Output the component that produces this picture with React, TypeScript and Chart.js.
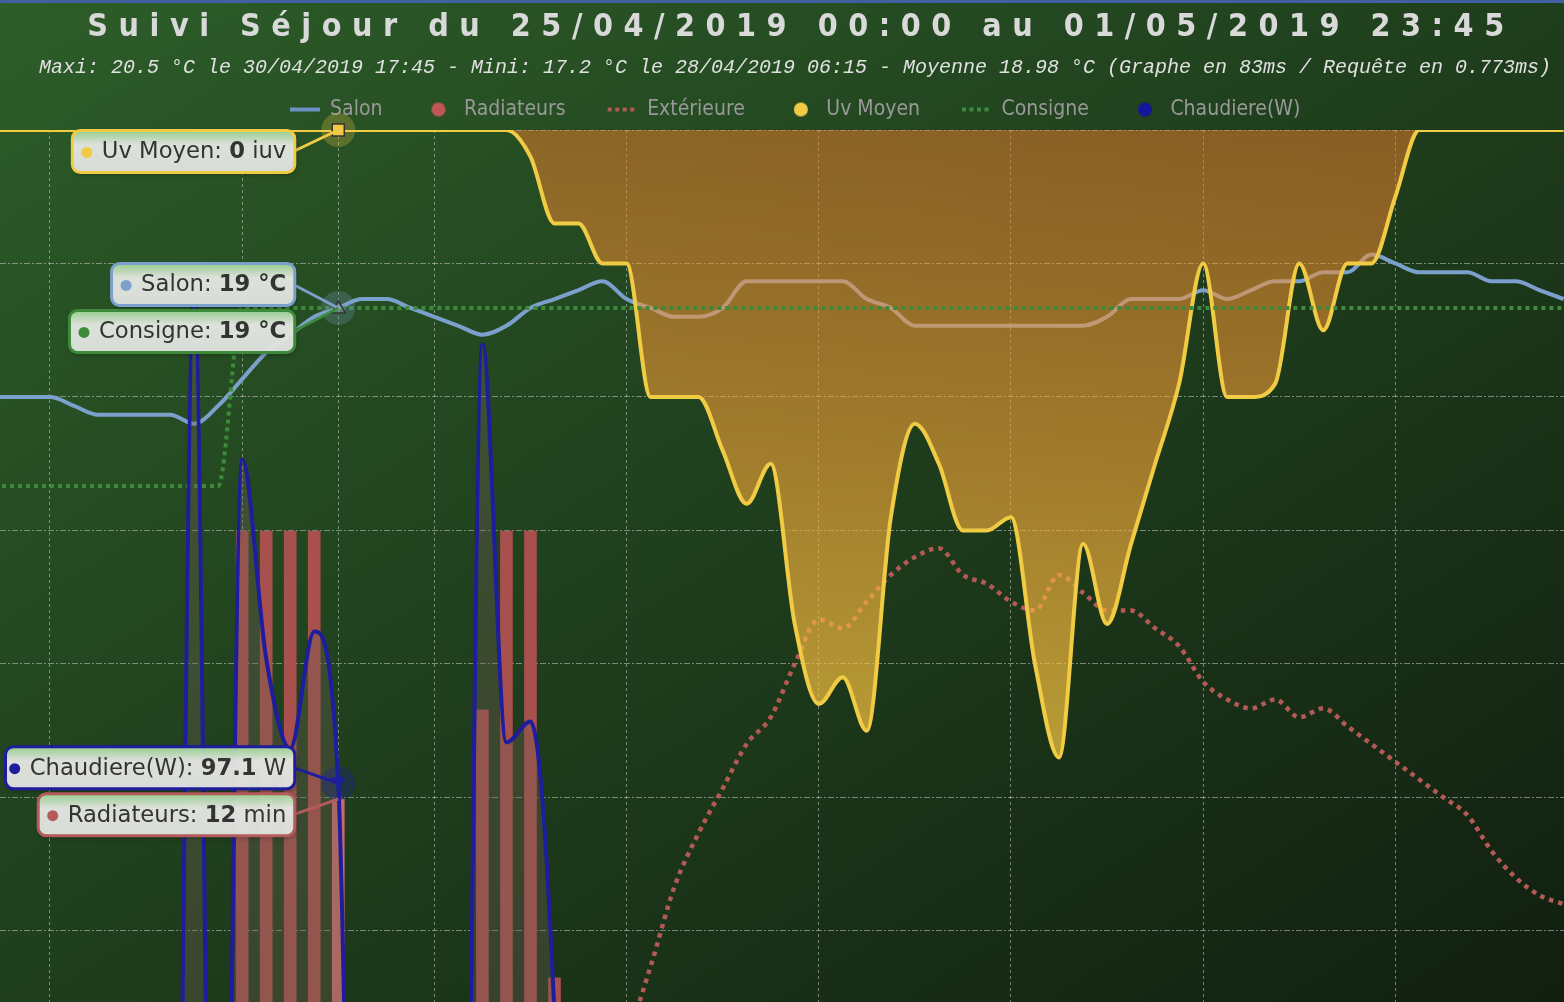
import React, { useEffect, useRef } from 'react';
import { Chart, registerables } from 'chart.js';

Chart.register(...registerables);

// ---------------- texts ----------------
const TITLE = 'Suivi Séjour du 25/04/2019 00:00 au 01/05/2019 23:45';
const SUBTITLE =
  'Maxi: 20.5 °C le 30/04/2019 17:45 - Mini: 17.2 °C le 28/04/2019 06:15 - Moyenne 18.98 °C (Graphe en 83ms / Requête en 0.773ms)';

// ---------------- data : one sample every 15 minutes ----------------
const times = [
  '03:15', '03:30', '03:45', '04:00', '04:15', '04:30', '04:45', '05:00', '05:15', '05:30', '05:45',
  '06:00', '06:15', '06:30', '06:45', '07:00', '07:15', '07:30', '07:45', '08:00', '08:15', '08:30', '08:45',
  '09:00', '09:15', '09:30', '09:45', '10:00', '10:15', '10:30', '10:45', '11:00', '11:15', '11:30', '11:45',
  '12:00', '12:15', '12:30', '12:45', '13:00', '13:15', '13:30', '13:45', '14:00', '14:15', '14:30', '14:45',
  '15:00', '15:15', '15:30', '15:45', '16:00', '16:15', '16:30', '16:45', '17:00', '17:15', '17:30', '17:45',
  '18:00', '18:15', '18:30', '18:45', '19:00', '19:15', '19:30', '19:45',
];

// Salon (°C)
const salon = [
  18.0, 18.0, 18.0, 18.0, 17.9, 17.8, 17.8, 17.8, 17.8, 17.7, 17.9,
  18.2, 18.5, 18.7, 18.9, 19.0, 19.1, 19.1, 19.0, 18.9, 18.8, 18.7, 18.8,
  19.0, 19.1, 19.2, 19.3, 19.1, 19.0, 18.9, 18.9, 19.0, 19.3, 19.3, 19.3,
  19.3, 19.3, 19.1, 19.0, 18.8, 18.8, 18.8, 18.8, 18.8, 18.8, 18.8, 18.8,
  18.9, 19.1, 19.1, 19.1, 19.2, 19.1, 19.2, 19.3, 19.3, 19.4, 19.4, 19.6,
  19.5, 19.4, 19.4, 19.4, 19.3, 19.3, 19.2, 19.1,
];

// Radiateurs (min de chauffe par quart d'heure)
const radiateurs = [
  null, null, null, null, null, null, null, null, null, null, null,
  15, 15, 15, 15, 12, null, null, null, null, null, 13, 15,
  15, 10, null, null, null, null, null, null, null, null, null, null,
  null, null, null, null, null, null, null, null, null, null, null, null,
  null, null, null, null, null, null, null, null, null, null, null, null,
  null, null, null, null, null, null, null, null,
];

// Extérieure (°C)
const exterieure = [
  9.3, 9.2, 9.1, 9.0, 8.9, 8.8, 8.8, 8.7, 8.6, 8.6, 8.5,
  8.5, 8.4, 8.4, 8.4, 8.5, 8.6, 8.7, 8.8, 8.9, 9.0, 9.2, 9.4,
  9.6, 9.9, 10.2, 10.4, 10.8, 11.6, 12.5, 13.1, 13.6, 14.1, 14.4, 15.0,
  15.5, 15.4, 15.7, 16.0, 16.2, 16.3, 16.0, 15.9, 15.7, 15.6, 16.0, 15.8,
  15.6, 15.6, 15.4, 15.2, 14.8, 14.6, 14.5, 14.6, 14.4, 14.5, 14.3, 14.1,
  13.9, 13.7, 13.5, 13.3, 12.9, 12.6, 12.4, 12.3,
];

// Uv Moyen (iuv)
const uvMoyen = [
  0, 0, 0, 0, 0, 0, 0, 0, 0, 0, 0,
  0, 0, 0, 0, 0, 0, 0, 0, 0, 0, 0, 0,
  0.2, 0.7, 0.7, 1.0, 1.0, 2.0, 2.0, 2.0, 2.4, 2.8, 2.5, 3.7,
  4.3, 4.1, 4.5, 2.9, 2.2, 2.5, 3.0, 3.0, 2.9, 4.0, 4.7, 3.1,
  3.7, 3.1, 2.5, 1.9, 1.0, 2.0, 2.0, 1.9, 1.0, 1.5, 1.0, 1.0,
  0.5, 0, 0, 0, 0, 0, 0, 0,
];

// Consigne (°C)
const consigne = [
  17, 17, 17, 17, 17, 17, 17, 17, 17, 17, 17,
  19, 19, 19, 19, 19, 19, 19, 19, 19, 19, 19, 19,
  19, 19, 19, 19, 19, 19, 19, 19, 19, 19, 19, 19,
  19, 19, 19, 19, 19, 19, 19, 19, 19, 19, 19, 19,
  19, 19, 19, 19, 19, 19, 19, 19, 19, 19, 19, 19,
  19, 19, 19, 19, 19, 19, 19, 19,
];

// Chaudiere (W)
const chaudiere = [
  0, 0, 0, 0, 0, 0, 0, 0, 0, 144, 0,
  128, 109, 100.4, 111.6, 97.1, 0, 0, 0, 0, 0, 139, 101,
  103, 75, 0, 0, 0, 0, 0, 0, 0, 0, 0, 0,
  0, 0, 0, 0, 0, 0, 0, 0, 0, 0, 0, 0,
  0, 0, 0, 0, 0, 0, 0, 0, 0, 0, 0, 0,
  0, 0, 0, 0, 0, 0, 0, 0,
];

const seriesNames = ['Salon', 'Radiateurs', 'Extérieure', 'Uv Moyen', 'Consigne', 'Chaudiere(W)'];
const hoverTime = '07:00';
const gridHours = [4, 6, 8, 10, 12, 14, 16, 18];
const uvGridTicks = [0, 1, 2, 3, 4, 5, 6];

// ---------------- view / style ----------------
const W = 1564;
const H = 1002;
const X_MIN = 3.48;
const X_MAX = 19.755;
const UV_MAX = 6.532;
const TEMP_MIN = 11.2;
const TEMP_MAX = 21.0;
const RAD_MIN = 9.73;
const RAD_MAX = 19.49;
const W_MIN = 76.2;
const W_MAX = 159.5;

const SALON_COLOR = 'rgb(124,160,204)';
const RAD_COLOR = '#a8504e';
const RAD_HOVER = '#c96d6b';
const EXT_COLOR = '#b35a55';
const UV_COLOR = '#f2cb45';
const CONS_COLOR = '#3d8b3a';
const CHAUD_COLOR = '#1d1d9e';
const GRID_COLOR = 'rgba(200,200,200,0.55)';
const LEGEND_SHIFT = 13;

const hourOf = (t: string) => {
  const [h, m] = t.split(':').map(Number);
  return h + m / 60;
};
const pts = (vals: (number | null)[]) => times.map((t, i) => ({ x: hourOf(t), y: vals[i] }));
const HOVER_INDEX = times.indexOf(hoverTime);

function makeSymbol(kind: string, color: string) {
  const c = document.createElement('canvas');
  c.width = 30;
  c.height = 16;
  const g = c.getContext('2d') as CanvasRenderingContext2D;
  g.fillStyle = color;
  g.strokeStyle = color;
  if (kind === 'line') {
    g.lineWidth = 4;
    g.beginPath();
    g.moveTo(0, 8);
    g.lineTo(30, 8);
    g.stroke();
  } else if (kind === 'dots') {
    for (let x = 1; x < 28; x += 7.5) g.fillRect(x, 6, 4, 4);
  } else {
    g.beginPath();
    g.arc(15, 8, 7, 0, Math.PI * 2);
    g.fill();
  }
  return c;
}

function roundRectPath(ctx: CanvasRenderingContext2D, x: number, y: number, w: number, h: number, r: number) {
  ctx.beginPath();
  ctx.moveTo(x + r, y);
  ctx.arcTo(x + w, y, x + w, y + h, r);
  ctx.arcTo(x + w, y + h, x, y + h, r);
  ctx.arcTo(x, y + h, x, y, r);
  ctx.arcTo(x, y, x + w, y, r);
  ctx.closePath();
}

const legendShiftPlugin = {
  id: 'legendShift',
  afterLayout(chart: any) {
    if (chart.legend) {
      chart.legend.left += LEGEND_SHIFT;
      chart.legend.right += LEGEND_SHIFT;
    }
  },
};

const TIP_FONT = '22.7px "DejaVu Sans", Verdana, sans-serif';
const TIP_BOLD = 'bold 22.7px "DejaVu Sans", Verdana, sans-serif';

const splitTooltipPlugin = {
  id: 'splitTooltip',
  beforeDatasetsDraw(chart: any) {
    const { ctx, chartArea, scales } = chart;
    const x = Math.round(scales.x.getPixelForValue(hourOf(hoverTime))) + 0.5;
    ctx.save();
    ctx.strokeStyle = GRID_COLOR;
    ctx.lineWidth = 1;
    ctx.setLineDash([3, 3]);
    ctx.beginPath();
    ctx.moveTo(x, chartArea.top);
    ctx.lineTo(x, chartArea.bottom);
    ctx.stroke();
    ctx.restore();
  },
  afterDatasetsDraw(chart: any) {
    const { ctx, scales } = chart;
    const i = HOVER_INDEX;
    const x = scales.x.getPixelForValue(hourOf(times[i]));
    const yUv = scales.yUv.getPixelForValue(uvMoyen[i]);
    const ySalon = scales.yTemp.getPixelForValue(salon[i]);
    const yW = scales.yW.getPixelForValue(chaudiere[i]);
    const halo = (y: number, color: string) => {
      ctx.beginPath();
      ctx.arc(x, y, 17, 0, Math.PI * 2);
      ctx.fillStyle = color;
      ctx.fill();
    };
    ctx.save();
    halo(yUv, 'rgba(242,203,69,0.25)');
    halo(ySalon, 'rgba(124,160,204,0.25)');
    halo(yW, 'rgba(29,29,158,0.3)');
    // Uv marker: square
    ctx.fillStyle = UV_COLOR;
    ctx.strokeStyle = '#333';
    ctx.lineWidth = 1.5;
    ctx.fillRect(x - 6, yUv - 6, 12, 12);
    ctx.strokeRect(x - 6, yUv - 6, 12, 12);
    // Salon marker: triangle
    ctx.beginPath();
    ctx.moveTo(x, ySalon - 7);
    ctx.lineTo(x + 7, ySalon + 5);
    ctx.lineTo(x - 7, ySalon + 5);
    ctx.closePath();
    ctx.fillStyle = 'rgba(140,160,150,0.45)';
    ctx.fill();
    ctx.stroke();
    // Chaudiere marker: triangle down
    ctx.beginPath();
    ctx.moveTo(x - 7, yW - 6);
    ctx.lineTo(x + 7, yW - 6);
    ctx.lineTo(x, yW + 6);
    ctx.closePath();
    ctx.fillStyle = CHAUD_COLOR;
    ctx.fill();
    ctx.restore();
  },
  afterDraw(chart: any) {
    const { ctx, chartArea, scales } = chart;
    const i = HOVER_INDEX;
    const hx = scales.x.getPixelForValue(hourOf(times[i]));
    const entries: any[] = [
      { label: 'Uv Moyen: ', value: String(uvMoyen[i]), suffix: ' iuv', boldSuffix: false, color: UV_COLOR, y: scales.yUv.getPixelForValue(uvMoyen[i]) },
      { label: 'Salon: ', value: String(salon[i]), suffix: ' °C', boldSuffix: true, color: SALON_COLOR, y: scales.yTemp.getPixelForValue(salon[i]) },
      { label: 'Consigne: ', value: String(consigne[i]), suffix: ' °C', boldSuffix: true, color: CONS_COLOR, y: scales.yTemp.getPixelForValue(consigne[i]) },
      { label: 'Chaudiere(W): ', value: String(chaudiere[i]), suffix: ' W', boldSuffix: false, color: CHAUD_COLOR, y: scales.yW.getPixelForValue(chaudiere[i]) },
      { label: 'Radiateurs: ', value: String(radiateurs[i]), suffix: ' min', boldSuffix: false, color: '#b35a5a', y: scales.yRad.getPixelForValue(radiateurs[i] as number) },
    ];
    const BOX_H = 45;
    const GAP = 2;
    const sorted = entries.map((e, k) => ({ ...e, k })).sort((a, b) => a.y - b.y || a.k - b.k);
    let groups: any[] = sorted.map((e) => ({ items: [e], size: BOX_H, pos: e.y - BOX_H / 2 }));
    let changed = true;
    let guard = 0;
    while (changed && guard++ < 50) {
      changed = false;
      groups.forEach((g) => {
        g.pos = Math.min(Math.max(g.pos, chartArea.top - 1), chartArea.bottom - g.size);
      });
      for (let k = 0; k < groups.length - 1; k++) {
        const a = groups[k];
        const b = groups[k + 1];
        if (a.pos + a.size + GAP > b.pos) {
          const items = a.items.concat(b.items);
          const size = items.length * BOX_H + (items.length - 1) * GAP;
          const target = items.reduce((s: number, it: any) => s + it.y, 0) / items.length;
          groups.splice(k, 2, { items, size, pos: target - size / 2 });
          changed = true;
          break;
        }
      }
    }
    groups.forEach((g) => {
      let y = g.pos;
      g.items.forEach((it: any) => {
        it.top = y;
        y += BOX_H + GAP;
      });
    });

    const right = hx - 42;
    ctx.save();
    for (const e of sorted) {
      const cy = e.top + BOX_H / 2;
      ctx.font = TIP_FONT;
      const w1 = ctx.measureText(e.label).width;
      ctx.font = TIP_BOLD;
      const boldText = e.value + (e.boldSuffix ? e.suffix : '');
      const w2 = ctx.measureText(boldText).width;
      ctx.font = TIP_FONT;
      const w3 = e.boldSuffix ? 0 : ctx.measureText(e.suffix).width;
      const textEnd = right - 10;
      const textStart = textEnd - (w1 + w2 + w3);
      const dotX = textStart - 15;
      const left = Math.max(dotX - 16, 4);

      // connector
      ctx.strokeStyle = e.color;
      ctx.lineWidth = 3;
      ctx.beginPath();
      ctx.moveTo(right - 3, cy);
      ctx.lineTo(hx, e.y);
      ctx.stroke();

      // box
      ctx.save();
      ctx.shadowColor = 'rgba(0,0,0,0.35)';
      ctx.shadowBlur = 5;
      ctx.shadowOffsetX = 1;
      ctx.shadowOffsetY = 2;
      const grad = ctx.createLinearGradient(0, e.top, 0, e.top + BOX_H);
      grad.addColorStop(0, 'rgba(150,212,140,0.94)');
      grad.addColorStop(0.35, 'rgba(233,236,231,0.94)');
      grad.addColorStop(1, 'rgba(228,230,226,0.94)');
      roundRectPath(ctx, left + 1.5, e.top + 1.5, right - left - 3, BOX_H - 3, 8);
      ctx.fillStyle = grad;
      ctx.fill();
      ctx.restore();
      roundRectPath(ctx, left + 1.5, e.top + 1.5, right - left - 3, BOX_H - 3, 8);
      ctx.strokeStyle = e.color;
      ctx.lineWidth = 3;
      ctx.stroke();

      // dot
      ctx.beginPath();
      ctx.arc(dotX, cy + 1, 5.5, 0, Math.PI * 2);
      ctx.fillStyle = e.color;
      ctx.fill();

      // text
      ctx.fillStyle = '#333333';
      ctx.textBaseline = 'middle';
      ctx.textAlign = 'left';
      ctx.font = TIP_FONT;
      ctx.fillText(e.label, textStart, cy + 1);
      ctx.font = TIP_BOLD;
      ctx.fillText(boldText, textStart + w1, cy + 1);
      if (!e.boldSuffix) {
        ctx.font = TIP_FONT;
        ctx.fillText(e.suffix, textStart + w1 + w2, cy + 1);
      }
    }
    ctx.restore();
  },
};

export default function App() {
  const canvasRef = useRef<HTMLCanvasElement | null>(null);

  useEffect(() => {
    document.body.style.margin = '0';
    const canvas = canvasRef.current;
    if (!canvas) return;

    const symbols = [
      makeSymbol('line', 'rgb(110,145,195)'),
      makeSymbol('circle', '#bf5757'),
      makeSymbol('dots', EXT_COLOR),
      makeSymbol('circle', UV_COLOR),
      makeSymbol('dots', CONS_COLOR),
      makeSymbol('circle', '#16169a'),
    ];

    const uvFill = (c: any) => {
      const chart = c.chart;
      const a = chart.chartArea;
      if (!a) return 'rgba(230,160,50,0.6)';
      const g = chart.ctx.createLinearGradient(0, a.top, 0, a.top + 640);
      g.addColorStop(0, 'rgba(240,125,43,0.5)');
      g.addColorStop(1, 'rgba(248,202,67,0.72)');
      return g;
    };

    const lineCommon = {
      type: 'line',
      pointRadius: 0,
      pointHoverRadius: 0,
      cubicInterpolationMode: 'monotone',
      borderCapStyle: 'butt',
    };

    const chart = new Chart(canvas, {
      type: 'line',
      data: {
        datasets: [
          { ...lineCommon, label: seriesNames[0], data: pts(salon), yAxisID: 'yTemp', borderColor: SALON_COLOR, borderWidth: 4, fill: false, order: 6 },
          {
            type: 'bar',
            label: seriesNames[1],
            data: pts(radiateurs),
            yAxisID: 'yRad',
            backgroundColor: radiateurs.map((_, k) => (k === HOVER_INDEX ? RAD_HOVER : RAD_COLOR)),
            borderWidth: 0,
            barThickness: 12,
            order: 5,
          },
          { ...lineCommon, label: seriesNames[2], data: pts(exterieure), yAxisID: 'yTemp', borderColor: EXT_COLOR, borderWidth: 4.5, borderDash: [4.5, 5], fill: false, order: 4 },
          { ...lineCommon, label: seriesNames[3], data: pts(uvMoyen), yAxisID: 'yUv', borderColor: UV_COLOR, borderWidth: 4, fill: 'origin', backgroundColor: uvFill, order: 3 },
          { ...lineCommon, label: seriesNames[4], data: pts(consigne), yAxisID: 'yTemp', borderColor: CONS_COLOR, borderWidth: 4, borderDash: [4, 4], fill: false, order: 2 },
          { ...lineCommon, label: seriesNames[5], data: pts(chaudiere), yAxisID: 'yW', borderColor: CHAUD_COLOR, borderWidth: 4, fill: 'origin', backgroundColor: 'rgba(112,94,84,0.35)', order: 1 },
        ] as any,
      },
      options: {
        animation: false,
        responsive: false,
        maintainAspectRatio: false,
        devicePixelRatio: 1,
        events: [],
        layout: { padding: { top: 58, left: 0, right: 0, bottom: 0 } },
        scales: {
          x: {
            type: 'linear',
            min: X_MIN,
            max: X_MAX,
            offset: false,
            grid: { color: GRID_COLOR, lineWidth: 1, drawTicks: false, offset: false },
            border: { display: false, dash: [3, 3] },
            ticks: { display: false },
            afterBuildTicks: (s: any) => {
              s.ticks = gridHours.map((v) => ({ value: v }));
            },
          },
          yUv: {
            type: 'linear',
            position: 'left',
            reverse: true,
            min: 0,
            max: UV_MAX,
            grid: { color: GRID_COLOR, lineWidth: 1, drawTicks: false },
            border: { display: false, dash: [6, 2, 2, 2] },
            ticks: { display: false },
            afterBuildTicks: (s: any) => {
              s.ticks = uvGridTicks.map((v) => ({ value: v }));
            },
          },
          yTemp: { type: 'linear', display: false, min: TEMP_MIN, max: TEMP_MAX },
          yRad: { type: 'linear', display: false, min: RAD_MIN, max: RAD_MAX },
          yW: { type: 'linear', display: false, min: W_MIN, max: W_MAX },
        } as any,
        plugins: {
          title: { display: false },
          subtitle: { display: false },
          tooltip: { enabled: false },
          legend: {
            display: true,
            position: 'top',
            align: 'center',
            labels: {
              usePointStyle: true,
              pointStyleWidth: 30,
              padding: 41,
              color: '#999999',
              font: { family: '"DejaVu Sans Condensed", "Liberation Sans Narrow", sans-serif', size: 21 },
              generateLabels: () =>
                seriesNames.map((name, k) => ({
                  text: name,
                  fontColor: '#999999',
                  pointStyle: symbols[k],
                  hidden: false,
                  datasetIndex: k,
                  lineWidth: 0,
                  strokeStyle: 'rgba(0,0,0,0)',
                  fillStyle: 'rgba(0,0,0,0)',
                })),
            },
          },
        },
      } as any,
      plugins: [legendShiftPlugin, splitTooltipPlugin] as any,
    });

    return () => chart.destroy();
  }, []);

  return (
    <div
      style={{
        position: 'relative',
        width: W,
        height: H,
        overflow: 'hidden',
        background: 'linear-gradient(to bottom right, rgb(45,93,41), rgb(17,31,16))',
      }}
    >
      <div style={{ position: 'absolute', left: 0, top: 0, width: W, height: 3, background: '#40609f' }} />
      <canvas ref={canvasRef} width={W} height={H} style={{ position: 'absolute', left: 0, top: 0 }} />
      <div
        style={{
          position: 'absolute',
          left: 801,
          top: 6,
          transform: 'translateX(-50%)',
          whiteSpace: 'nowrap',
          font: 'bold 32px "DejaVu Sans Condensed", "DejaVu Sans", sans-serif',
          lineHeight: '38px',
          letterSpacing: '10.5px',
          color: '#d9d9d9',
        }}
      >
        {TITLE}
      </div>
      <div
        style={{
          position: 'absolute',
          left: 795,
          top: 56,
          transform: 'translateX(-50%)',
          whiteSpace: 'nowrap',
          font: 'italic 20px "Liberation Mono", "DejaVu Sans Mono", monospace',
          lineHeight: '23px',
          color: '#e0e0e0',
        }}
      >
        {SUBTITLE}
      </div>
    </div>
  );
}
